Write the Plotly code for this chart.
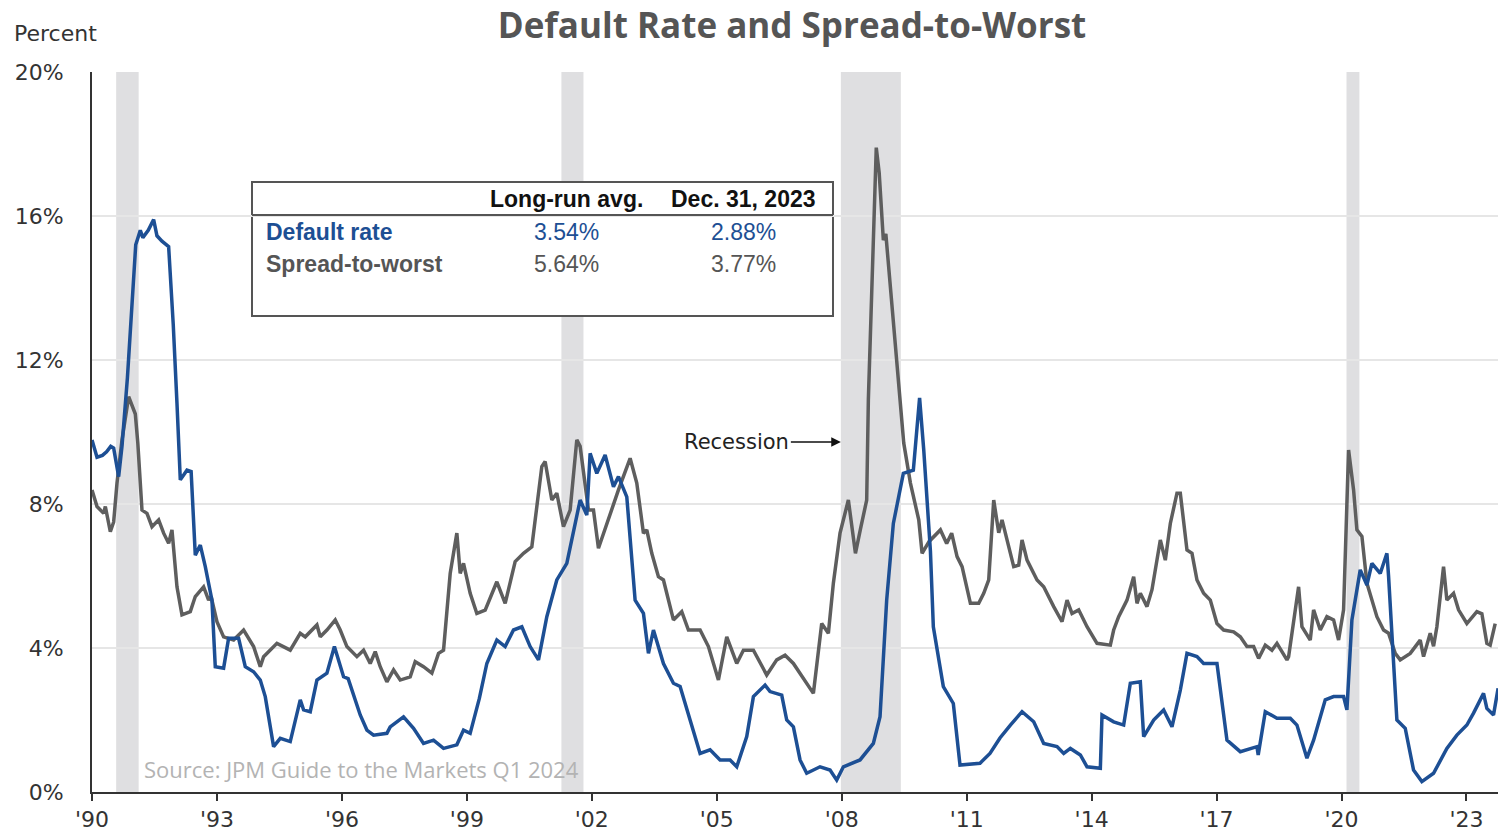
import plotly.graph_objects as go

# ---------------- data ----------------
dr_year = [1990.00, 1990.12, 1990.25, 1990.35, 1990.45, 1990.52, 1990.64, 1990.72, 1990.85, 1990.95,
           1991.05, 1991.16, 1991.22, 1991.35, 1991.48, 1991.56, 1991.68, 1991.84, 1991.95, 1992.04,
           1992.08, 1992.12, 1992.28, 1992.38, 1992.48, 1992.60, 1992.72, 1992.88, 1992.96, 1993.16,
           1993.28, 1993.52, 1993.68, 1993.88, 1994.04, 1994.16, 1994.36, 1994.52, 1994.76, 1995.00,
           1995.08, 1995.24, 1995.40, 1995.64, 1995.82, 1996.04, 1996.15, 1996.44, 1996.60, 1996.76,
           1997.08, 1997.16, 1997.48, 1997.72, 1997.96, 1998.20, 1998.44, 1998.76, 1998.92, 1999.08,
           1999.30, 1999.48, 1999.72, 1999.92, 2000.12, 2000.32, 2000.52, 2000.72, 2000.92, 2001.16,
           2001.40, 2001.72, 2001.88, 2001.96, 2002.12, 2002.32, 2002.52, 2002.64, 2002.84, 2003.04,
           2003.24, 2003.36, 2003.48, 2003.72, 2003.96, 2004.12, 2004.36, 2004.60, 2004.84, 2005.08,
           2005.32, 2005.48, 2005.72, 2005.88, 2006.16, 2006.28, 2006.56, 2006.68, 2006.84, 2007.00,
           2007.16, 2007.48, 2007.72, 2007.88, 2008.04, 2008.44, 2008.76, 2008.92, 2009.08, 2009.24,
           2009.48, 2009.72, 2009.87, 2009.97, 2010.13, 2010.20, 2010.44, 2010.68, 2010.84, 2011.32,
           2011.56, 2011.80, 2012.05, 2012.33, 2012.61, 2012.85, 2013.17, 2013.33, 2013.49, 2013.73,
           2013.89, 2014.21, 2014.25, 2014.53, 2014.77, 2014.93, 2015.17, 2015.25, 2015.49, 2015.73,
           2015.93, 2016.13, 2016.29, 2016.53, 2016.69, 2017.01, 2017.25, 2017.57, 2017.97, 2018.00,
           2018.17, 2018.45, 2018.77, 2018.93, 2019.17, 2019.33, 2019.61, 2019.81, 2020.05, 2020.13,
           2020.25, 2020.45, 2020.61, 2020.73, 2020.93, 2021.09, 2021.13, 2021.33, 2021.53, 2021.73,
           2021.93, 2022.21, 2022.53, 2022.77, 2023.01, 2023.17, 2023.41, 2023.49, 2023.65, 2023.76]
dr_value = [9.78, 9.30, 9.35, 9.45, 9.60, 9.55, 8.76, 9.60, 11.5, 13.5,
            15.2, 15.6, 15.4, 15.6, 15.9, 15.45, 15.3, 15.15, 13.0, 10.8,
            9.70, 8.67, 8.94, 8.90, 6.58, 6.86, 6.26, 5.33, 3.48, 3.44,
            4.27, 4.27, 3.48, 3.34, 3.11, 2.65, 1.26, 1.49, 1.40, 2.56,
            2.28, 2.23, 3.11, 3.30, 4.04, 3.20, 3.15, 2.14, 1.72, 1.58,
            1.63, 1.81, 2.09, 1.77, 1.35, 1.44, 1.21, 1.31, 1.72, 1.63,
            2.60, 3.57, 4.22, 4.04, 4.50, 4.59, 4.04, 3.67, 4.87, 5.89,
            6.35, 8.11, 7.69, 9.41, 8.85, 9.36, 8.48, 8.76, 8.20, 5.33,
            4.96, 3.85, 4.50, 3.57, 3.02, 2.93, 2.00, 1.07, 1.17, 0.89,
            0.89, 0.70, 1.54, 2.65, 2.97, 2.79, 2.69, 2.00, 1.81, 0.89,
            0.52, 0.70, 0.61, 0.33, 0.70, 0.89, 1.35, 2.09, 5.33, 7.46,
            8.85, 8.94, 10.95, 9.50, 6.70, 4.59, 2.93, 2.46, 0.75, 0.80,
            1.07, 1.50, 1.86, 2.23, 1.95, 1.35, 1.26, 1.07, 1.21, 1.03,
            0.70, 0.66, 2.14, 1.95, 1.86, 3.02, 3.06, 1.54, 2.00, 2.28,
            1.81, 2.83, 3.85, 3.76, 3.57, 3.57, 1.44, 1.12, 1.26, 1.03,
            2.23, 2.05, 2.05, 1.86, 0.94, 1.44, 2.56, 2.65, 2.65, 2.28,
            4.78, 6.17, 5.75, 6.35, 6.07, 6.63, 6.00, 2.00, 1.77, 0.61,
            0.29, 0.52, 1.21, 1.58, 1.86, 2.19, 2.74, 2.32, 2.14, 2.88]

sw_year = [1990.00, 1990.12, 1990.28, 1990.32, 1990.44, 1990.52, 1990.60, 1990.72, 1990.88, 1991.04,
           1991.10, 1991.20, 1991.32, 1991.44, 1991.60, 1991.72, 1991.84, 1991.92, 1992.04, 1992.16,
           1992.36, 1992.48, 1992.68, 1992.80, 1992.86, 1993.00, 1993.16, 1993.40, 1993.64, 1993.88,
           1994.04, 1994.12, 1994.44, 1994.76, 1995.00, 1995.12, 1995.40, 1995.48, 1995.64, 1995.84,
           1995.96, 1996.12, 1996.36, 1996.52, 1996.68, 1996.80, 1996.92, 1997.08, 1997.24, 1997.40,
           1997.64, 1997.76, 1997.96, 1998.16, 1998.32, 1998.44, 1998.60, 1998.76, 1998.84, 1998.92,
           1999.08, 1999.24, 1999.44, 1999.72, 1999.92, 2000.16, 2000.36, 2000.56, 2000.80, 2000.88,
           2001.04, 2001.16, 2001.32, 2001.48, 2001.64, 2001.72, 2001.92, 2002.04, 2002.16, 2002.36,
           2002.64, 2002.92, 2003.08, 2003.24, 2003.32, 2003.44, 2003.60, 2003.72, 2003.96, 2004.16,
           2004.32, 2004.60, 2004.80, 2005.04, 2005.24, 2005.48, 2005.64, 2005.88, 2006.20, 2006.44,
           2006.64, 2006.84, 2007.08, 2007.32, 2007.52, 2007.68, 2007.80, 2007.96, 2008.16, 2008.33,
           2008.45, 2008.60, 2008.64, 2008.83, 2008.90, 2009.00, 2009.06, 2009.33, 2009.49, 2009.65,
           2009.85, 2009.93, 2010.10, 2010.37, 2010.52, 2010.64, 2010.77, 2010.89, 2011.09, 2011.29,
           2011.41, 2011.53, 2011.65, 2011.77, 2011.85, 2012.13, 2012.25, 2012.33, 2012.45, 2012.69,
           2012.85, 2013.09, 2013.29, 2013.41, 2013.53, 2013.69, 2013.89, 2014.13, 2014.45, 2014.53,
           2014.65, 2014.85, 2015.01, 2015.09, 2015.17, 2015.33, 2015.45, 2015.65, 2015.77, 2015.89,
           2016.05, 2016.13, 2016.29, 2016.41, 2016.53, 2016.69, 2016.85, 2017.01, 2017.17, 2017.41,
           2017.57, 2017.73, 2017.89, 2018.01, 2018.17, 2018.33, 2018.45, 2018.69, 2018.73, 2018.97,
           2019.05, 2019.25, 2019.33, 2019.49, 2019.65, 2019.81, 2019.93, 2020.05, 2020.17, 2020.29,
           2020.37, 2020.49, 2020.61, 2020.85, 2021.01, 2021.13, 2021.29, 2021.41, 2021.65, 2021.89,
           2021.97, 2022.13, 2022.21, 2022.29, 2022.45, 2022.53, 2022.69, 2022.81, 2023.01, 2023.25,
           2023.37, 2023.49, 2023.57, 2023.69]
sw_value = [8.39, 7.93, 7.74, 7.93, 7.23, 7.50, 8.58, 9.78, 10.98, 10.50,
            9.69, 7.83, 7.74, 7.37, 7.56, 7.19, 6.91, 7.28, 5.70, 4.92,
            5.01, 5.43, 5.70, 5.33, 5.43, 4.73, 4.31, 4.22, 4.50, 4.04,
            3.48, 3.76, 4.13, 3.94, 4.41, 4.31, 4.64, 4.31, 4.50, 4.78,
            4.50, 4.04, 3.76, 3.94, 3.57, 3.90, 3.48, 3.06, 3.39, 3.11,
            3.20, 3.62, 3.48, 3.30, 3.85, 3.94, 6.07, 7.19, 6.07, 6.35,
            5.52, 4.96, 5.05, 5.84, 5.24, 6.40, 6.63, 6.81, 9.04, 9.18,
            8.11, 8.30, 7.37, 7.83, 9.78, 9.60, 7.83, 7.83, 6.77, 7.46,
            8.39, 9.27, 8.58, 7.19, 7.28, 6.63, 5.98, 5.89, 4.78, 5.01,
            4.50, 4.50, 4.04, 3.11, 4.31, 3.57, 3.94, 3.94, 3.25, 3.67,
            3.80, 3.57, 3.16, 2.74, 4.68, 4.41, 5.80, 7.19, 8.11, 6.63,
            7.30, 8.11, 10.90, 17.90, 17.20, 15.33, 15.50, 12.00, 9.69, 8.58,
            7.56, 6.63, 6.96, 7.28, 6.90, 7.19, 6.54, 6.26, 5.24, 5.24,
            5.52, 5.89, 8.11, 7.20, 7.56, 6.26, 6.30, 7.00, 6.44, 5.89,
            5.70, 5.15, 4.73, 5.33, 4.96, 5.06, 4.59, 4.13, 4.08, 4.50,
            4.87, 5.33, 5.98, 5.24, 5.52, 5.15, 5.62, 7.00, 6.44, 7.46,
            8.30, 8.30, 6.72, 6.63, 5.89, 5.52, 5.33, 4.68, 4.50, 4.45,
            4.31, 4.04, 4.04, 3.71, 4.08, 3.94, 4.13, 3.67, 3.76, 5.70,
            4.59, 4.22, 5.06, 4.50, 4.87, 4.78, 4.22, 5.06, 9.50, 8.39,
            7.28, 7.10, 5.80, 4.87, 4.50, 4.41, 3.85, 3.67, 3.85, 4.22,
            3.76, 4.41, 4.05, 4.59, 6.26, 5.33, 5.52, 5.06, 4.68, 5.01,
            4.95, 4.13, 4.08, 4.68]

recession_start = [1990.58, 2001.27, 2007.98, 2020.12]
recession_end = [1991.12, 2001.80, 2009.42, 2020.43]

tick_years = [1990, 1993, 1996, 1999, 2002, 2005, 2008, 2011, 2014, 2017, 2020, 2023]
tick_labels = ["'90", "'93", "'96", "'99", "'02", "'05", "'08", "'11", "'14", "'17", "'20", "'23"]
y_ticks = [0, 4, 8, 12, 16, 20]
y_tick_labels = ["0%", "4%", "8%", "12%", "16%", "20%"]

table_columns = ["Long-run avg.", "Dec. 31, 2023"]
table_rows = ["Default rate", "Spread-to-worst"]
table_values = [["3.54%", "2.88%"], ["5.64%", "3.77%"]]

# ---------------- style ----------------
BLUE = "#1d4f94"
GRAY = "#5e5e5e"
W, H = 1498, 837
L, R, T, B = 92, 0, 72, 45
PW, PH = W - L - R, H - T - B
FONT = "Liberation Sans, Arial, sans-serif"
WIDE = "DejaVu Sans, Verdana, sans-serif"


def px(xp):
    return (xp - L) / PW


def py(yp):
    return (H - B - yp) / PH


fig = go.Figure()
fig.add_trace(go.Scatter(x=sw_year, y=sw_value, mode="lines", name="Spread-to-worst",
                         line=dict(color=GRAY, width=3.5), hoverinfo="skip"))
fig.add_trace(go.Scatter(x=dr_year, y=dr_value, mode="lines", name="Default rate",
                         line=dict(color=BLUE, width=3.5), hoverinfo="skip"))

shapes = []
for s, e in zip(recession_start, recession_end):
    shapes.append(dict(type="rect", xref="x", yref="paper", x0=s, x1=e, y0=0, y1=1,
                       fillcolor="#dfdfe1", line=dict(width=0), layer="between"))

# table box
bx0, bx1, by0, by1, bhead = 252, 833, 182, 316, 215
shapes.append(dict(type="rect", xref="paper", yref="paper", x0=px(bx0), x1=px(bx1),
                   y0=py(by1), y1=py(by0), fillcolor="white",
                   line=dict(color="#555555", width=2), layer="between"))
shapes.append(dict(type="line", xref="paper", yref="paper", x0=px(bx0), x1=px(bx1),
                   y0=py(bhead), y1=py(bhead), line=dict(color="#555555", width=2)))

ann = []
col_x = [566, 743]
for cx, txt in zip(col_x, table_columns):
    ann.append(dict(xref="paper", yref="paper", x=px(cx), y=py(199), text="<b>%s</b>" % txt,
                    showarrow=False, xanchor="center", yanchor="middle",
                    font=dict(family=FONT, size=23, color="#111111")))
row_y = [232, 264]
row_col = [BLUE, "#555555"]
for ry, lab, vals, c in zip(row_y, table_rows, table_values, row_col):
    ann.append(dict(xref="paper", yref="paper", x=px(264), y=py(ry), text="<b>%s</b>" % lab,
                    showarrow=False, xanchor="left", yanchor="middle",
                    font=dict(family=FONT, size=23, color=c)))
    for cx, v in zip(col_x, vals):
        ann.append(dict(xref="paper", yref="paper", x=px(cx), y=py(ry), text=v,
                        showarrow=False, xanchor="center", yanchor="middle",
                        font=dict(family=FONT, size=23, color=c)))

# recession arrow
ann.append(dict(xref="x", yref="paper", x=recession_start[2], y=py(442), text="Recession",
                showarrow=True, ax=-104, ay=0, axref="pixel", ayref="pixel",
                arrowhead=2, arrowsize=1.2, arrowwidth=1.6, arrowcolor="#111111", standoff=0,
                font=dict(family=WIDE, size=21, color="#222222")))

# Percent label
ann.append(dict(xref="paper", yref="paper", x=px(12), y=py(34), text="Percent",
                showarrow=False, xanchor="left", yanchor="middle",
                font=dict(family=WIDE, size=22, color="#333333")))
# Source
ann.append(dict(xref="paper", yref="paper", x=px(142), y=py(769),
                text="Source: JPM Guide to the Markets Q1 2024",
                showarrow=False, xanchor="left", yanchor="middle",
                font=dict(family="Open Sans, sans-serif", size=22, color="#b3b3b3")))

fig.update_layout(
    width=W, height=H, autosize=False,
    margin=dict(l=L, r=R, t=T, b=B, pad=0),
    paper_bgcolor="white", plot_bgcolor="white",
    showlegend=False,
    title=dict(text="<b>Default Rate and Spread-to-Worst</b>", x=px(792), xref="paper",
               xanchor="center", y=1 - 26 / H, yref="container", yanchor="middle",
               font=dict(family="Open Sans, sans-serif", size=35, color="#555555")),
    shapes=shapes,
    annotations=ann,
    xaxis=dict(range=[1990, 1990 + PW / 41.65], tickmode="array", tickvals=tick_years,
               ticktext=tick_labels, showgrid=False, zeroline=False,
               showline=True, linecolor="#333333", linewidth=2,
               ticks="outside", ticklen=7, tickwidth=2, tickcolor="#333333",
               tickfont=dict(family=WIDE, size=22, color="#333333")),
    yaxis=dict(range=[0, 20], tickmode="array", tickvals=y_ticks, ticktext=y_tick_labels,
               showgrid=True, gridcolor="#e6e6e6", gridwidth=1.5, zeroline=False,
               showline=True, linecolor="#333333", linewidth=2, ticks="",
               ticklabelstandoff=22,
               tickfont=dict(family=WIDE, size=22, color="#333333")),
)

fig.write_html("out.html")
